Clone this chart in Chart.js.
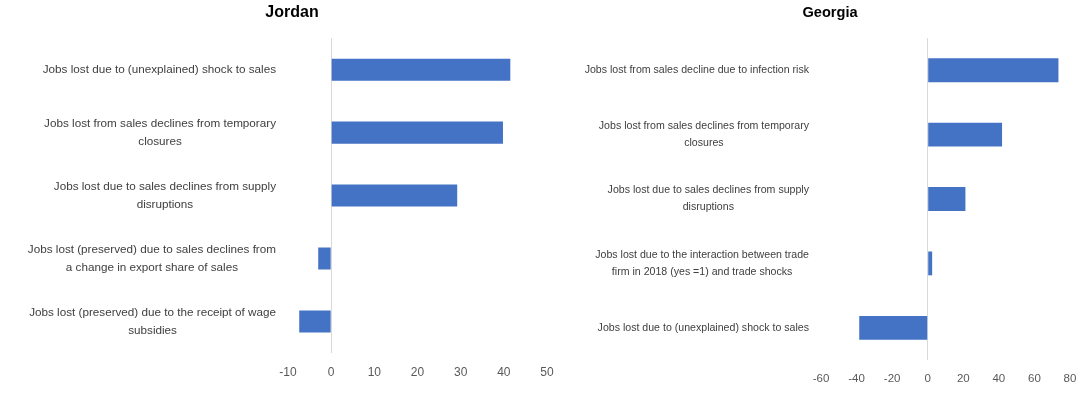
<!DOCTYPE html>
<html>
<head>
<meta charset="utf-8">
<script src="https://cdn.jsdelivr.net/npm/chart.js@4.4.1/dist/chart.umd.min.js"></script>
<style>
  html, body { margin: 0; padding: 0; background: #fff; }
  body { width: 1091px; height: 396px; position: relative; overflow: hidden; }
  .box { position: absolute; top: 0; height: 396px; }
  #jordanBox { left: 0; width: 584px; }
  #georgiaBox { left: 570px; width: 520px; }
</style>
</head>
<body>
<div class="box" id="jordanBox"><canvas id="jordan"></canvas></div>
<div class="box" id="georgiaBox"><canvas id="georgia"></canvas></div>
<script>
// Jordan
const jordanLabels = [
    'Jobs lost due to (unexplained) shock to sales',
    ['Jobs lost from sales declines from temporary', 'closures'],
    ['Jobs lost due to sales declines from supply', 'disruptions'],
    ['Jobs lost (preserved) due to sales declines from', 'a change in export share of sales'],
    ['Jobs lost (preserved) due to the receipt of wage', 'subsidies']
];
const jordanValues = [41.5, 39.8, 29.2, -3.0, -7.4];

// Georgia
const georgiaLabels = [
    'Jobs lost from sales decline due to infection risk',
    ['Jobs lost from sales declines from temporary', 'closures'],
    ['Jobs lost due to sales declines from supply', 'disruptions'],
    ['Jobs lost due to the interaction between trade', 'firm in 2018 (yes =1) and trade shocks'],
    'Jobs lost due to (unexplained) shock to sales'
];
const georgiaValues = [73.5, 41.8, 21.2, 2.5, -38.5];

const BAR_COLOR = '#4472C4';
const FONT = "'Liberation Sans', Arial, sans-serif";

// category labels: block right aligned to the axis, lines centred inside the block (Excel style)
const blockLabels = {
    id: 'blockLabels',
    afterDraw(chart, args, opts) {
        const ctx = chart.ctx;
        const yScale = chart.scales.y;
        const labels = chart.data.labels;
        ctx.save();
        ctx.font = opts.size + 'px ' + FONT;
        ctx.fillStyle = '#404040';
        ctx.textAlign = 'center';
        ctx.textBaseline = 'middle';
        labels.forEach((lab, i) => {
            const lines = Array.isArray(lab) ? lab : [lab];
            let w = 0;
            lines.forEach(l => { w = Math.max(w, ctx.measureText(l).width); });
            const cx = chart.chartArea.left - opts.gap - w / 2;
            const py = yScale.getPixelForTick(i);
            const y0 = py - (lines.length - 1) * opts.lineHeight / 2;
            lines.forEach((l, k) => ctx.fillText(l, cx, y0 + k * opts.lineHeight));
        });
        ctx.restore();
    }
};

function make_chart(id, title, labels, values, cfg) {
    new Chart(document.getElementById(id), {
        type: 'bar',
        data: {
            labels: labels,
            datasets: [{
                data: values,
                backgroundColor: BAR_COLOR,
                borderWidth: 0,
                barPercentage: cfg.barPct,
                categoryPercentage: 1
            }]
        },
        options: {
            indexAxis: 'y',
            responsive: true,
            maintainAspectRatio: false,
            animation: false,
            layout: { padding: { left: cfg.padLeft, right: cfg.padRight, top: 0, bottom: 0 } },
            scales: {
                x: {
                    min: cfg.min,
                    max: cfg.max,
                    afterFit: s => { s.height = cfg.xHeight; },
                    ticks: {
                        stepSize: cfg.step,
                        padding: cfg.tickPad,
                        color: '#595959',
                        font: { family: FONT, size: cfg.tickSize }
                    },
                    grid: {
                        drawTicks: false,
                        color: c => (c.tick && c.tick.value === 0) ? '#d9d9d9' : 'rgba(0,0,0,0)'
                    },
                    border: { display: false }
                },
                y: {
                    afterFit: s => { s.width = cfg.yWidth; },
                    ticks: { display: false },
                    grid: { display: false },
                    border: { display: false }
                }
            },
            plugins: {
                legend: { display: false },
                tooltip: { enabled: false },
                title: {
                    display: true,
                    text: title,
                    color: '#000',
                    font: { family: FONT, size: cfg.titleSize, weight: 'bold' },
                    padding: { top: cfg.titleTop, bottom: cfg.titleBottom }
                },
                blockLabels: { size: cfg.labelSize, gap: 12, lineHeight: cfg.lineHeight }
            }
        },
        plugins: [blockLabels]
    });
}

make_chart('jordan', 'Jordan', jordanLabels, jordanValues, {
    min: -10, max: 50, step: 10,
    padLeft: 37, padRight: 37, yWidth: 251, xHeight: 43,
    tickPad: 12, tickSize: 12,
    titleSize: 16, titleTop: 3, titleBottom: 16,
    labelSize: 11.7, lineHeight: 18, barPct: 0.35
});

make_chart('georgia', 'Georgia', georgiaLabels, georgiaValues, {
    min: -60, max: 80, step: 20,
    padLeft: 20, padRight: 20, yWidth: 231, xHeight: 36,
    tickPad: 12, tickSize: 11.5,
    titleSize: 14.6, titleTop: 4, titleBottom: 16.5,
    labelSize: 10.6, lineHeight: 17, barPct: 0.37
});
</script>
</body>
</html>
